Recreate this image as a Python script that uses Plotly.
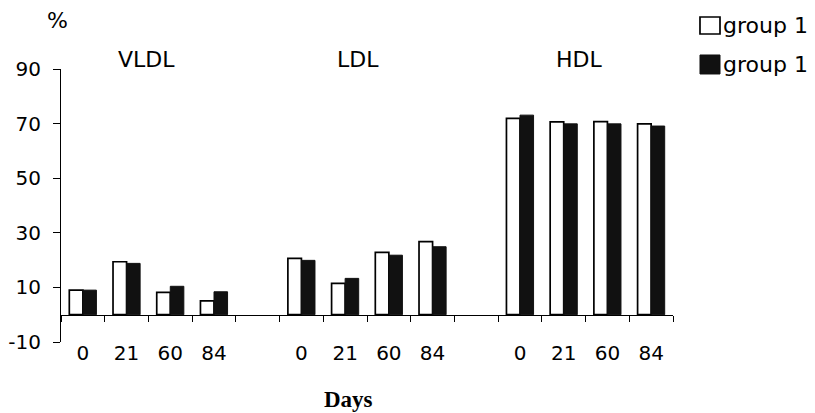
import plotly.graph_objects as go

# ---- data ----
fractions = ["VLDL", "LDL", "HDL"]
days = ["0", "21", "60", "84"]
series_names = ["group 1", "group 1"]

g1_vldl = [9.0, 19.4, 8.2, 5.1]
g1_ldl = [20.6, 11.5, 22.8, 26.8]
g1_hdl = [71.9, 70.6, 70.7, 69.9]

g2_vldl = [9.0, 18.8, 10.4, 8.4]
g2_ldl = [19.9, 13.3, 21.8, 24.9]
g2_hdl = [73.1, 69.9, 69.9, 69.1]

y_ticks = [-10, 10, 30, 50, 70, 90]
y_tick_text = ["-10", "10", "30", "50", "70", "90"]

# ---- build positions (one empty slot between fractions) ----
slot = len(days) + 1
xs, labels = [], []
for gi, fr in enumerate(fractions):
    for di, d in enumerate(days):
        xs.append(gi * slot + di)
        labels.append(d)
n_slots = len(fractions) * slot - 1
g1 = g1_vldl + g1_ldl + g1_hdl
g2 = g2_vldl + g2_ldl + g2_hdl

FONT = "DejaVu Sans"

fig = go.Figure()
fig.add_trace(go.Bar(x=xs, y=g1, name=series_names[0],
                     marker=dict(color="white", line=dict(color="black", width=1.7)),
                     showlegend=False))
fig.add_trace(go.Bar(x=xs, y=g2, name=series_names[1],
                     marker=dict(color="#111111", line=dict(color="#111111", width=1)),
                     showlegend=False))

# group labels (paper coordinates)
group_x = [0.1405, 0.4853, 0.8464]
annotations = []
for fr, gx in zip(fractions, group_x):
    annotations.append(dict(x=gx, y=1.036, xref="paper", yref="paper", text=fr, showarrow=False,
                            font=dict(family=FONT, size=22, color="black"),
                            xanchor="center", yanchor="middle"))

# "%" unit label and "Days" label
annotations.append(dict(x=-0.0065, y=1.179, xref="paper", yref="paper", text="%", showarrow=False,
                        font=dict(family=FONT, size=22, color="black"), xanchor="center", yanchor="middle"))
annotations.append(dict(x=0.469, y=-0.209, xref="paper", yref="paper", text="<b>Days</b>", showarrow=False,
                        font=dict(family="Liberation Serif", size=23, color="black"),
                        xanchor="center", yanchor="middle"))

# manual legend
shapes = [
    dict(type="rect", xref="paper", yref="paper", x0=1.0441, x1=1.0768, y0=1.1282, y1=1.1905,
         fillcolor="white", line=dict(color="black", width=1.7)),
    dict(type="rect", xref="paper", yref="paper", x0=1.0441, x1=1.0768, y0=0.9817, y1=1.0513,
         fillcolor="#111111", line=dict(color="#111111", width=1)),
]
for name, yy in zip(series_names, [1.1593, 1.0165]):
    annotations.append(dict(x=1.0785, y=yy, xref="paper", yref="paper", text=name, showarrow=False,
                            font=dict(family=FONT, size=22, color="black"),
                            xanchor="left", yanchor="middle"))

# page body has an 8px default margin: figure is 8px smaller and margins shifted accordingly
fig.update_layout(
    width=807, height=405,
    margin=dict(l=53, r=142, t=61, b=71),
    paper_bgcolor="white", plot_bgcolor="white",
    barmode="group", bargap=0.38, bargroupgap=0,
    font=dict(family=FONT, size=20, color="black"),
    annotations=annotations, shapes=shapes,
    xaxis=dict(range=[-0.5, n_slots - 0.5], tickmode="array", tickvals=xs, ticktext=labels,
               showline=False, ticks="", showgrid=False, zeroline=False, automargin=False,
               ticklabelstandoff=-3,
               tickfont=dict(family=FONT, size=20, color="black")),
    xaxis2=dict(overlaying="x", anchor="free", position=0.1, side="bottom",
                range=[-0.5, n_slots - 0.5], tickmode="array",
                tickvals=[i - 0.5 for i in range(n_slots + 1)], automargin=False,
                showticklabels=False, ticks="outside", ticklen=6, tickcolor="black",
                showline=True, linecolor="black", linewidth=1, showgrid=False, zeroline=False),
    yaxis=dict(range=[-10, 90], tickmode="array", tickvals=y_ticks, ticktext=y_tick_text,
               ticks="outside", ticklen=7, tickcolor="black", showline=True, linecolor="black",
               linewidth=1, showgrid=False, zeroline=False, ticklabelstandoff=8, automargin=False,
               tickfont=dict(family=FONT, size=20, color="black")),
)
# invisible trace to activate xaxis2
fig.add_trace(go.Scatter(x=[0], y=[0], xaxis="x2", mode="markers", marker=dict(opacity=0),
                         showlegend=False, hoverinfo="skip"))

fig.write_html("out.html")
